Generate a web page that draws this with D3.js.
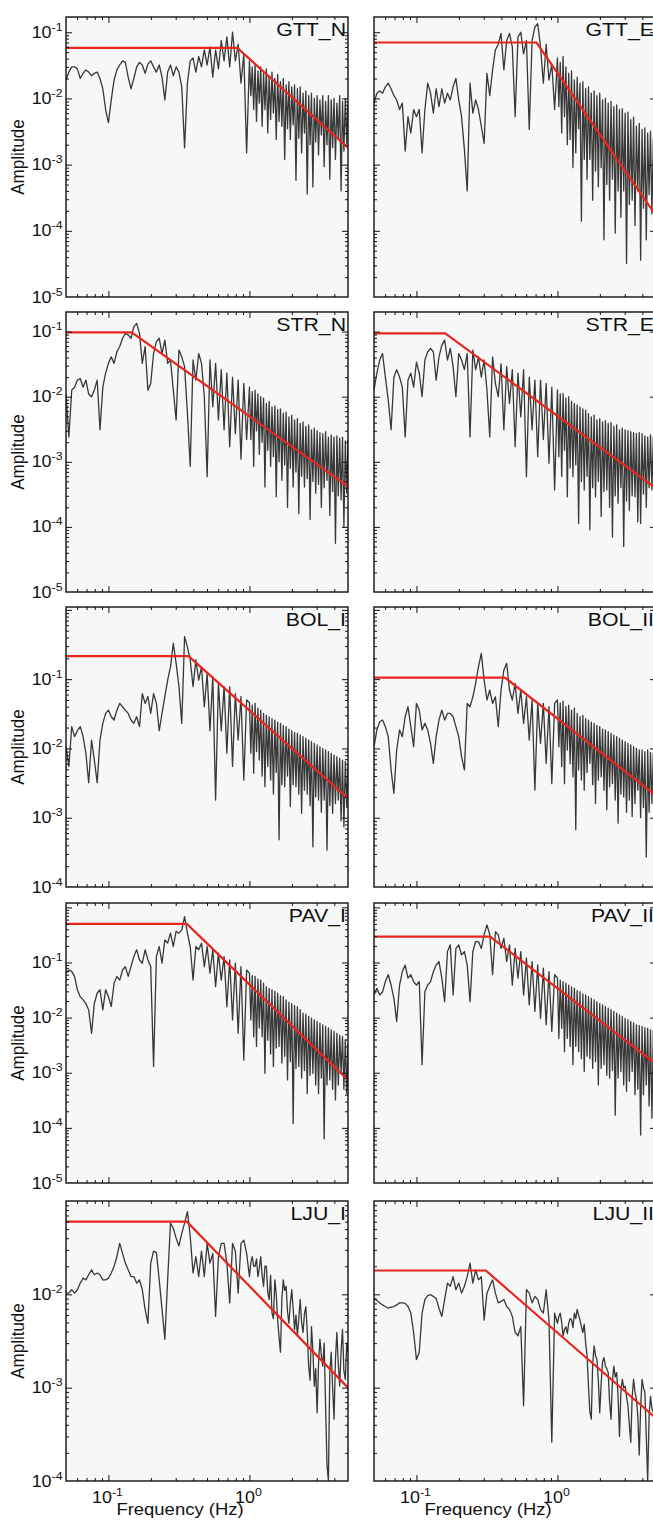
<!DOCTYPE html>
<html>
<head>
<meta charset="utf-8">
<script src="https://cdn.jsdelivr.net/npm/d3@7"></script>
<style>
  body { margin: 0; background: #fff; }
  svg { display: block; font-family: "Liberation Sans", Arial, sans-serif; }
</style>
</head>
<body>
<svg id="chart" width="653" height="1522"></svg>
<script>
// === Data ===
// frequency samples (Hz), shared by every station; finer above 1 Hz
const freqs = [
  0.0500, 0.0524, 0.0549, 0.0575, 0.0602, 0.0631, 0.0661, 0.0692, 0.0724, 0.0759,
  0.0794, 0.0832, 0.0871, 0.0912, 0.0955, 0.1000, 0.1047, 0.1096, 0.1148, 0.1202,
  0.1259, 0.1318, 0.1380, 0.1445, 0.1514, 0.1585, 0.1660, 0.1738, 0.1820, 0.1905,
  0.1995, 0.2089, 0.2188, 0.2291, 0.2399, 0.2512, 0.2630, 0.2754, 0.2884, 0.3020,
  0.3162, 0.3311, 0.3467, 0.3631, 0.3802, 0.3981, 0.4169, 0.4365, 0.4571, 0.4786,
  0.5012, 0.5248, 0.5495, 0.5754, 0.6026, 0.6310, 0.6607, 0.6918, 0.7244, 0.7586,
  0.7943, 0.8318, 0.8710, 0.9120, 0.9550,
  1.000, 1.023, 1.047, 1.072, 1.096, 1.122, 1.148, 1.175, 1.202, 1.230,
  1.259, 1.288, 1.318, 1.349, 1.380, 1.413, 1.445, 1.479, 1.514, 1.549,
  1.585, 1.622, 1.660, 1.698, 1.738, 1.778, 1.820, 1.862, 1.905, 1.950,
  1.995, 2.042, 2.089, 2.138, 2.188, 2.239, 2.291, 2.344, 2.399, 2.455,
  2.512, 2.570, 2.630, 2.692, 2.754, 2.818, 2.884, 2.951, 3.020, 3.090,
  3.162, 3.236, 3.311, 3.388, 3.467, 3.548, 3.631, 3.715, 3.802, 3.890,
  3.981, 4.074, 4.169, 4.266, 4.365, 4.467, 4.571, 4.677, 4.786, 4.898,
  5.000
];

const stations = ['GTT_N', 'GTT_E', 'STR_N', 'STR_E', 'BOL_I', 'BOL_II', 'PAV_I', 'PAV_II', 'LJU_I', 'LJU_II'];

// spectral amplitudes at freqs
const ampGTT_N = [
  0.019,0.025,0.030,0.030,0.028,0.020,0.024,0.027,0.025,0.022,
  0.024,0.025,0.020,0.014,0.0068,0.0043,0.0095,0.019,0.027,0.032,
  0.037,0.035,0.021,0.014,0.020,0.030,0.035,0.032,0.024,0.033,
  0.037,0.030,0.025,0.032,0.021,0.0095,0.025,0.032,0.022,0.030,
  0.025,0.015,0.0018,0.017,0.037,0.041,0.025,0.043,0.030,0.054,
  0.032,0.060,0.021,0.054,0.028,0.075,0.037,0.085,0.030,0.10,
  0.037,0.066,0.017,0.047,0.0015,
  0.037,0.011,0.030,0.0068,0.033,0.0045,0.026,0.0085,0.030,0.0038,
  0.024,0.0068,0.028,0.0030,0.022,0.0048,0.025,0.0060,0.020,0.0024,
  0.023,0.0045,0.018,0.0038,0.020,0.0012,0.016,0.0035,0.018,0.0024,
  0.015,0.0040,0.016,0.00058,0.014,0.0025,0.015,0.0015,0.012,0.0030,
  0.013,0.00036,0.011,0.0020,0.012,0.00046,0.010,0.0022,0.011,0.0014,
  0.0095,0.0028,0.011,0.00093,0.0090,0.0020,0.011,0.0006,0.0095,0.0018,
  0.010,0.0012,0.0085,0.0025,0.011,0.0004,0.0090,0.0016,0.010,0.0021,
  0.0080
];
const ampGTT_E = [
  0.0085,0.012,0.013,0.012,0.015,0.017,0.014,0.011,0.0095,0.0068,
  0.0085,0.0016,0.0053,0.0030,0.0068,0.0053,0.0068,0.0015,0.0068,0.017,
  0.012,0.006,0.014,0.0075,0.014,0.0085,0.012,0.0095,0.015,0.020,
  0.0095,0.0053,0.0017,0.00040,0.017,0.006,0.0095,0.0068,0.0038,0.0021,
  0.024,0.011,0.027,0.054,0.066,0.096,0.027,0.075,0.096,0.060,
  0.0053,0.085,0.10,0.047,0.075,0.0034,0.075,0.12,0.135,0.060,
  0.017,0.066,0.019,0.033,0.0068,
  0.041,0.0075,0.035,0.0030,0.043,0.0053,0.030,0.0020,0.024,0.0024,
  0.026,0.0009,0.019,0.0015,0.021,0.0035,0.017,0.00014,0.018,0.0012,
  0.014,0.0006,0.015,0.0012,0.012,0.00029,0.013,0.0008,0.011,0.00046,
  0.012,0.0009,0.0095,0.000073,0.010,0.0005,0.0085,0.00029,0.0090,0.0006,
  0.0075,0.000092,0.0080,0.0004,0.0068,0.00016,0.0070,0.0004,0.0060,0.000032,
  0.0062,0.00025,0.0048,0.00029,0.0052,0.00012,0.0038,0.0004,0.0042,0.000036,
  0.0034,0.00022,0.0036,0.000073,0.0030,0.00035,0.0032,0.00018,0.0024,0.00040,
  0.0026
];
const ampSTR_N = [
  0.011,0.0024,0.0126,0.014,0.018,0.019,0.014,0.018,0.011,0.010,
  0.0126,0.018,0.0031,0.014,0.023,0.0325,0.041,0.0325,0.049,0.059,
  0.079,0.094,0.089,0.079,0.119,0.134,0.094,0.0325,0.059,0.0126,
  0.016,0.046,0.070,0.079,0.046,0.074,0.0325,0.0366,0.0126,0.0044,
  0.052,0.041,0.029,0.0056,0.00085,0.0366,0.018,0.046,0.0325,0.010,
  0.00059,0.0366,0.007,0.0325,0.0044,0.026,0.0031,0.023,0.0017,0.020,
  0.0027,0.018,0.0011,0.016,0.0022,
  0.014,0.0022,0.012,0.00085,0.0126,0.0030,0.011,0.0013,0.010,0.0020,
  0.0095,0.00041,0.0079,0.0015,0.0085,0.00085,0.007,0.0012,0.0072,0.00029,
  0.0063,0.0010,0.0065,0.00052,0.0056,0.0009,0.0058,0.0002,0.0049,0.0008,
  0.0052,0.00041,0.0044,0.0007,0.0046,0.00016,0.0039,0.0006,0.0041,0.00041,
  0.0035,0.00055,0.0037,0.00013,0.0031,0.0005,0.0033,0.00033,0.0030,0.00045,
  0.0028,0.0002,0.0027,0.0004,0.0029,0.00052,0.0024,0.00015,0.0026,0.00035,
  0.0024,0.000056,0.0025,0.0003,0.0023,0.00026,0.0024,0.0001,0.0021,0.00033,
  0.0022
];
const ampSTR_E = [
  0.0127,0.023,0.0366,0.046,0.020,0.0089,0.0031,0.020,0.026,0.020,
  0.014,0.0024,0.018,0.023,0.014,0.034,0.023,0.010,0.0366,0.049,
  0.055,0.049,0.018,0.041,0.062,0.074,0.0366,0.055,0.029,0.010,
  0.046,0.0366,0.026,0.046,0.0024,0.052,0.026,0.041,0.020,0.0366,
  0.0127,0.0024,0.041,0.016,0.010,0.032,0.0031,0.029,0.0079,0.026,
  0.0017,0.023,0.0049,0.026,0.00059,0.020,0.0031,0.018,0.0012,0.018,
  0.0022,0.016,0.00095,0.014,0.00037,
  0.0127,0.0012,0.011,0.0006,0.0112,0.0015,0.0095,0.00029,0.010,0.0008,
  0.0085,0.00059,0.0079,0.0009,0.0075,0.000113,0.007,0.0005,0.0065,0.00037,
  0.0062,0.0006,0.0055,0.00009,0.0049,0.0004,0.0052,0.00029,0.0044,0.0005,
  0.0046,0.000144,0.0041,0.00035,0.0043,0.00037,0.0039,0.0002,0.0040,0.00007,
  0.0035,0.0003,0.0037,0.00023,0.0031,0.0004,0.0033,0.00005,0.0031,0.00025,
  0.0030,0.00018,0.0029,0.0003,0.0028,0.00029,0.0027,0.00012,0.0028,0.000113,
  0.0027,0.00032,0.0025,0.0002,0.0024,0.0004,0.0026,0.00037,0.0024,0.00015,
  0.0024
];
const ampBOL_I = [
  0.0106,0.0055,0.0206,0.0148,0.018,0.0206,0.0148,0.0085,0.0032,0.0132,
  0.0068,0.0032,0.0132,0.023,0.032,0.0358,0.0287,0.0257,0.0358,0.0447,
  0.040,0.0358,0.032,0.0257,0.023,0.0287,0.0206,0.062,0.0447,0.056,
  0.032,0.062,0.0447,0.018,0.032,0.056,0.097,0.15,0.33,0.169,
  0.078,0.023,0.41,0.29,0.19,0.078,0.19,0.097,0.15,0.040,
  0.12,0.018,0.108,0.0018,0.087,0.018,0.078,0.0085,0.078,0.0055,
  0.062,0.0132,0.056,0.0035,0.050,
  0.046,0.0085,0.042,0.0044,0.0447,0.0090,0.038,0.0068,0.0358,0.0040,
  0.032,0.0028,0.030,0.0055,0.0287,0.0035,0.027,0.0022,0.0257,0.0045,
  0.024,0.00048,0.023,0.0030,0.0215,0.0028,0.0206,0.0040,0.019,0.00145,
  0.018,0.0030,0.017,0.0028,0.0165,0.0022,0.0155,0.00116,0.0148,0.0025,
  0.014,0.0022,0.0132,0.0015,0.0125,0.00038,0.0118,0.0020,0.0112,0.0018,
  0.0106,0.0012,0.0100,0.0018,0.0095,0.00034,0.009,0.0015,0.0085,0.00116,
  0.008,0.0016,0.0076,0.0018,0.0072,0.0009,0.0068,0.00074,0.0065,0.0014,
  0.0060
];
const ampBOL_II = [
  0.0106,0.0185,0.0243,0.0257,0.0206,0.0148,0.0049,0.00225,0.0095,0.0185,
  0.0148,0.0287,0.040,0.0206,0.0106,0.0447,0.0358,0.0185,0.023,0.0185,
  0.0118,0.0061,0.0148,0.0257,0.0358,0.0257,0.032,0.032,0.0287,0.0206,
  0.0148,0.0076,0.0049,0.0447,0.040,0.0557,0.087,0.151,0.235,0.097,
  0.050,0.0697,0.0447,0.0557,0.0206,0.0697,0.135,0.169,0.0697,0.050,
  0.087,0.032,0.0697,0.023,0.0557,0.0132,0.050,0.0025,0.0447,0.0118,
  0.0447,0.0061,0.040,0.0031,0.0447,
  0.050,0.0106,0.045,0.0055,0.048,0.0031,0.040,0.0095,0.042,0.0060,
  0.0358,0.0039,0.038,0.00067,0.032,0.0049,0.0287,0.0035,0.030,0.0025,
  0.027,0.0045,0.0257,0.0061,0.024,0.0030,0.023,0.0016,0.0215,0.0035,
  0.0206,0.0039,0.019,0.0025,0.0185,0.0013,0.0175,0.0028,0.0165,0.0031,
  0.0155,0.0018,0.0148,0.00083,0.014,0.0022,0.0132,0.0020,0.0125,0.0012,
  0.0118,0.0018,0.0112,0.00104,0.0106,0.0016,0.010,0.0025,0.0095,0.0010,
  0.0095,0.0014,0.009,0.00027,0.0095,0.0012,0.0088,0.0016,0.0085,0.0009,
  0.0085
];
const ampPAV_I = [
  0.064,0.073,0.069,0.056,0.032,0.024,0.021,0.018,0.0138,0.0052,
  0.018,0.0277,0.032,0.0138,0.032,0.024,0.0158,0.042,0.056,0.048,
  0.073,0.084,0.056,0.084,0.128,0.17,0.112,0.097,0.17,0.112,
  0.084,0.0013,0.128,0.195,0.097,0.257,0.224,0.34,0.195,0.37,
  0.34,0.39,0.68,0.34,0.195,0.048,0.195,0.17,0.224,0.084,
  0.195,0.064,0.17,0.0366,0.148,0.048,0.128,0.0158,0.112,0.0091,
  0.097,0.0052,0.084,0.0017,0.073,
  0.064,0.0091,0.058,0.0045,0.056,0.0030,0.050,0.0065,0.048,0.0045,
  0.042,0.00098,0.0366,0.0039,0.034,0.0022,0.032,0.0013,0.030,0.0028,
  0.0277,0.003,0.025,0.0015,0.024,0.0020,0.021,0.00074,0.019,0.0016,
  0.018,0.00012,0.0165,0.0012,0.0158,0.0013,0.014,0.0008,0.012,0.0011,
  0.0115,0.00042,0.0105,0.0009,0.0098,0.00098,0.0091,0.0006,0.0085,0.00042,
  0.0079,0.0008,0.0074,0.000063,0.0069,0.0006,0.0065,0.00074,0.006,0.0005,
  0.0056,0.00032,0.0052,0.0006,0.0048,0.00098,0.0045,0.0005,0.0040,0.00042,
  0.0034
];
const ampPAV_II = [
  0.0257,0.034,0.0257,0.0295,0.045,0.060,0.039,0.0224,0.0085,0.039,
  0.068,0.090,0.052,0.060,0.045,0.039,0.045,0.0014,0.0295,0.039,
  0.045,0.068,0.090,0.104,0.052,0.0195,0.158,0.209,0.0257,0.18,
  0.209,0.137,0.158,0.090,0.0195,0.158,0.24,0.24,0.18,0.32,
  0.48,0.32,0.060,0.36,0.32,0.18,0.275,0.104,0.209,0.039,
  0.18,0.052,0.158,0.0257,0.12,0.017,0.104,0.0129,0.090,0.0097,
  0.079,0.0074,0.068,0.0056,0.060,
  0.052,0.0042,0.048,0.0064,0.045,0.0024,0.042,0.0042,0.039,0.0030,
  0.036,0.0014,0.034,0.0030,0.031,0.0024,0.0295,0.0018,0.027,0.00105,
  0.0257,0.0020,0.024,0.0018,0.0224,0.0012,0.021,0.0016,0.0195,0.0006,
  0.018,0.0012,0.017,0.0014,0.016,0.0009,0.0148,0.0008,0.014,0.0011,
  0.0129,0.00017,0.012,0.0008,0.0112,0.00105,0.0105,0.0006,0.0097,0.00046,
  0.0092,0.0007,0.0085,0.00105,0.008,0.0004,0.0074,0.0005,0.0072,0.000074,
  0.0069,0.0004,0.0066,0.0006,0.0064,0.00025,0.006,0.00015,0.0058,0.0004,
  0.0056
];
const ampLJU_I = [
  0.0103,0.0103,0.0112,0.0103,0.0112,0.0132,0.0149,0.0143,0.0162,0.0183,
  0.0162,0.0169,0.0162,0.0143,0.0143,0.0149,0.0169,0.0199,0.0254,0.0352,
  0.0275,0.0216,0.0183,0.0155,0.0155,0.0132,0.0143,0.0112,0.0069,0.0049,
  0.0216,0.029,0.028,0.0143,0.0069,0.0033,0.0143,0.058,0.051,0.040,
  0.033,0.045,0.058,0.077,0.042,0.0169,0.0254,0.0155,0.029,0.0155,
  0.0352,0.0216,0.0275,0.0058,0.0254,0.0352,0.0352,0.0216,0.0081,0.0352,
  0.029,0.0103,0.0352,0.038,0.0275,
  0.0155,0.022,0.0254,0.020,0.0199,0.024,0.0155,0.019,0.0254,0.016,
  0.0122,0.020,0.0199,0.0105,0.0088,0.016,0.0063,0.0055,0.0143,0.010,
  0.0053,0.0035,0.0024,0.0090,0.0143,0.011,0.0122,0.0065,0.0049,0.0080,
  0.0112,0.0070,0.0042,0.0060,0.0036,0.0055,0.0088,0.0050,0.0039,0.0062,
  0.0074,0.0040,0.0017,0.0012,0.0045,0.0025,0.00104,0.0016,0.00054,0.0018,
  0.0033,0.0022,0.0017,0.0030,0.00064,0.00015,0.0001,0.0015,0.0024,0.0010,
  0.00046,0.0020,0.0039,0.0018,0.00104,0.0025,0.0042,0.0015,0.00123,0.0030,
  0.0024
];
const ampLJU_II = [
  0.0091,0.0086,0.0081,0.0077,0.0074,0.0071,0.0073,0.0074,0.0077,0.0081,
  0.0081,0.008,0.0074,0.0063,0.0039,0.002,0.0024,0.0063,0.0088,0.0097,
  0.0099,0.0095,0.009,0.0071,0.0058,0.0088,0.0132,0.0122,0.0155,0.0112,
  0.0132,0.0103,0.0122,0.0155,0.0216,0.0132,0.0183,0.0143,0.0155,0.0053,
  0.0103,0.0122,0.0143,0.0103,0.0081,0.0084,0.0088,0.0074,0.0069,0.0058,
  0.0039,0.0036,0.0045,0.00064,0.0112,0.0103,0.0081,0.0095,0.0088,0.0069,
  0.0063,0.0112,0.0053,0.00026,0.0063,
  0.0049,0.0058,0.0063,0.0050,0.0036,0.0042,0.0045,0.0038,0.0049,0.0055,
  0.0053,0.0044,0.0063,0.0055,0.0069,0.0060,0.0053,0.0045,0.0039,0.0048,
  0.003,0.0022,0.00104,0.00055,0.00046,0.0018,0.0028,0.0022,0.002,0.0012,
  0.00054,0.0011,0.0019,0.0021,0.0017,0.0016,0.00145,0.0007,0.00046,0.0012,
  0.0017,0.0013,0.00145,0.0008,0.0003,0.0009,0.00123,0.0010,0.00104,0.0008,
  0.00064,0.0004,0.00026,0.0008,0.00123,0.0009,0.00075,0.0005,0.00019,0.0006,
  0.00123,0.0010,0.00089,0.0003,0.0001,0.0005,0.00081,0.0006,0.00054,0.0007,
  0.00064
];

// fitted source model (red): [frequency, amplitude] vertices
const modelGTT_N = [[0.05, 0.058], [0.82, 0.058], [5, 0.0018]];
const modelGTT_E = [[0.05, 0.07], [0.71, 0.07], [5, 0.00017]];
const modelSTR_N = [[0.05, 0.097], [0.146, 0.097], [5, 0.00042]];
const modelSTR_E = [[0.05, 0.094], [0.16, 0.094], [5, 0.00039]];
const modelBOL_I = [[0.05, 0.215], [0.37, 0.215], [5, 0.0019]];
const modelBOL_II = [[0.05, 0.105], [0.425, 0.105], [5, 0.0021]];
const modelPAV_I = [[0.05, 0.5], [0.36, 0.5], [5, 0.00074]];
const modelPAV_II = [[0.05, 0.295], [0.333, 0.295], [5, 0.00145]];
const modelLJU_I = [[0.05, 0.06], [0.36, 0.06], [5, 0.001]];
const modelLJU_II = [[0.05, 0.018], [0.31, 0.018], [5, 0.00047]];

const amps = [ampGTT_N, ampGTT_E, ampSTR_N, ampSTR_E, ampBOL_I, ampBOL_II, ampPAV_I, ampPAV_II, ampLJU_I, ampLJU_II];
const models = [modelGTT_N, modelGTT_E, modelSTR_N, modelSTR_E, modelBOL_I, modelBOL_II, modelPAV_I, modelPAV_II, modelLJU_I, modelLJU_II];

// axes
const xDomain = [0.05, 5];
const xTickExps = [-1, 0];
const yDomains = [[1e-5, 0.17], [1e-5, 0.2], [1e-4, 1.1], [1e-5, 1.2], [1e-4, 0.1]];
const yTickExps = [[-1, -2, -3, -4, -5], [-1, -2, -3, -4, -5], [-1, -2, -3, -4], [-1, -2, -3, -4, -5], [-2, -3, -4]];

// === Layout ===
const colLeft = [66, 374];
const rowTop = [17, 312, 607, 903, 1201];
const plotW = 282;
const plotH = 280;
const svg = d3.select('#chart');

function minorTicks([lo, hi]) {
  const out = [];
  for (let e = Math.floor(Math.log10(lo)); e <= Math.ceil(Math.log10(hi)); e++) {
    for (let m = 2; m <= 9; m++) {
      const v = m * 10 ** e;
      if (v > lo * 1.001 && v < hi / 1.001) out.push(v);
    }
  }
  return out;
}
function majorTicks([lo, hi]) {
  const out = [];
  for (let e = Math.ceil(Math.log10(lo)); e <= Math.floor(Math.log10(hi)); e++) {
    const v = 10 ** e;
    if (v > lo * 1.001 && v < hi / 1.001) out.push(v);
  }
  return out;
}

function addTicks(g, axis, size) {
  g.call(axis.tickSize(size).tickFormat(''))
    .call((a) => a.select('.domain').remove())
    .call((a) => a.selectAll('line').attr('stroke', '#111').attr('stroke-width', 1));
}

function powerLabel(g, e, tx, ty, anchor) {
  const t = g.append('text')
    .attr('transform', `translate(${tx},${ty}) scale(1.12,1)`)
    .attr('text-anchor', anchor)
    .attr('font-size', 16)
    .attr('fill', '#111');
  t.append('tspan').text('10');
  t.append('tspan').attr('dy', -7).attr('font-size', 11).text(e);
}

stations.forEach((name, i) => {
  const row = Math.floor(i / 2);
  const col = i % 2;
  const x = d3.scaleLog().domain(xDomain).range([0, plotW]);
  const y = d3.scaleLog().domain(yDomains[row]).range([plotH, 0]);
  const g = svg.append('g').attr('transform', `translate(${colLeft[col]},${rowTop[row]})`);

  g.append('rect').attr('width', plotW).attr('height', plotH).attr('fill', '#f6f7f7');
  g.append('clipPath').attr('id', `clip${i}`)
    .append('rect').attr('width', plotW).attr('height', plotH);

  const line = d3.line().x((d) => x(d[0])).y((d) => y(d[1]));

  // observed spectrum
  g.append('path')
    .datum(d3.zip(freqs, amps[i]))
    .attr('clip-path', `url(#clip${i})`)
    .attr('d', line)
    .attr('fill', 'none')
    .attr('stroke', '#383838')
    .attr('stroke-width', 1.3)
    .attr('stroke-linejoin', 'round');

  // model
  g.append('path')
    .datum(models[i])
    .attr('clip-path', `url(#clip${i})`)
    .attr('d', line)
    .attr('fill', 'none')
    .attr('stroke', '#e8261c')
    .attr('stroke-width', 2.2);

  // inward ticks on all four sides
  const xMin = minorTicks(xDomain), xMaj = majorTicks(xDomain);
  const yMin = minorTicks(yDomains[row]), yMaj = majorTicks(yDomains[row]);
  const bottom = g.append('g').attr('transform', `translate(0,${plotH})`);
  addTicks(bottom.append('g'), d3.axisBottom(x).tickValues(xMin), -3);
  addTicks(bottom.append('g'), d3.axisBottom(x).tickValues(xMaj), -6);
  addTicks(g.append('g'), d3.axisTop(x).tickValues(xMin), -3);
  addTicks(g.append('g'), d3.axisTop(x).tickValues(xMaj), -6);
  addTicks(g.append('g'), d3.axisLeft(y).tickValues(yMin), -3);
  addTicks(g.append('g'), d3.axisLeft(y).tickValues(yMaj), -6);
  const right = g.append('g').attr('transform', `translate(${plotW},0)`);
  addTicks(right.append('g'), d3.axisRight(y).tickValues(yMin), -3);
  addTicks(right.append('g'), d3.axisRight(y).tickValues(yMaj), -6);

  // frame
  g.append('rect').attr('width', plotW).attr('height', plotH)
    .attr('fill', 'none').attr('stroke', '#111').attr('stroke-width', 1.4);

  // station name
  g.append('text')
    .attr('transform', `translate(${plotW - 2},19) scale(1.15,1)`)
    .attr('text-anchor', 'end')
    .attr('font-size', 18.5)
    .attr('fill', '#111')
    .text(name);

  if (col === 0) {
    yTickExps[row].forEach((e) => powerLabel(g, e, -3.5, y(10 ** e) + 5.5, 'end'));
    g.append('text')
      .attr('transform', `translate(-42,${plotH / 2}) scale(1.12,1) rotate(-90)`)
      .attr('text-anchor', 'middle')
      .attr('font-size', 17)
      .attr('fill', '#111')
      .text('Amplitude');
  }

  if (row === 4) {
    xTickExps.forEach((e) => powerLabel(g, e, x(10 ** e) - 1, plotH + 22, 'middle'));
    g.append('text')
      .attr('transform', `translate(114,${plotH + 34}) scale(1.12,1)`)
      .attr('text-anchor', 'middle')
      .attr('font-size', 16.5)
      .attr('fill', '#111')
      .text('Frequency (Hz)');
  }
});
</script>
</body>
</html>
